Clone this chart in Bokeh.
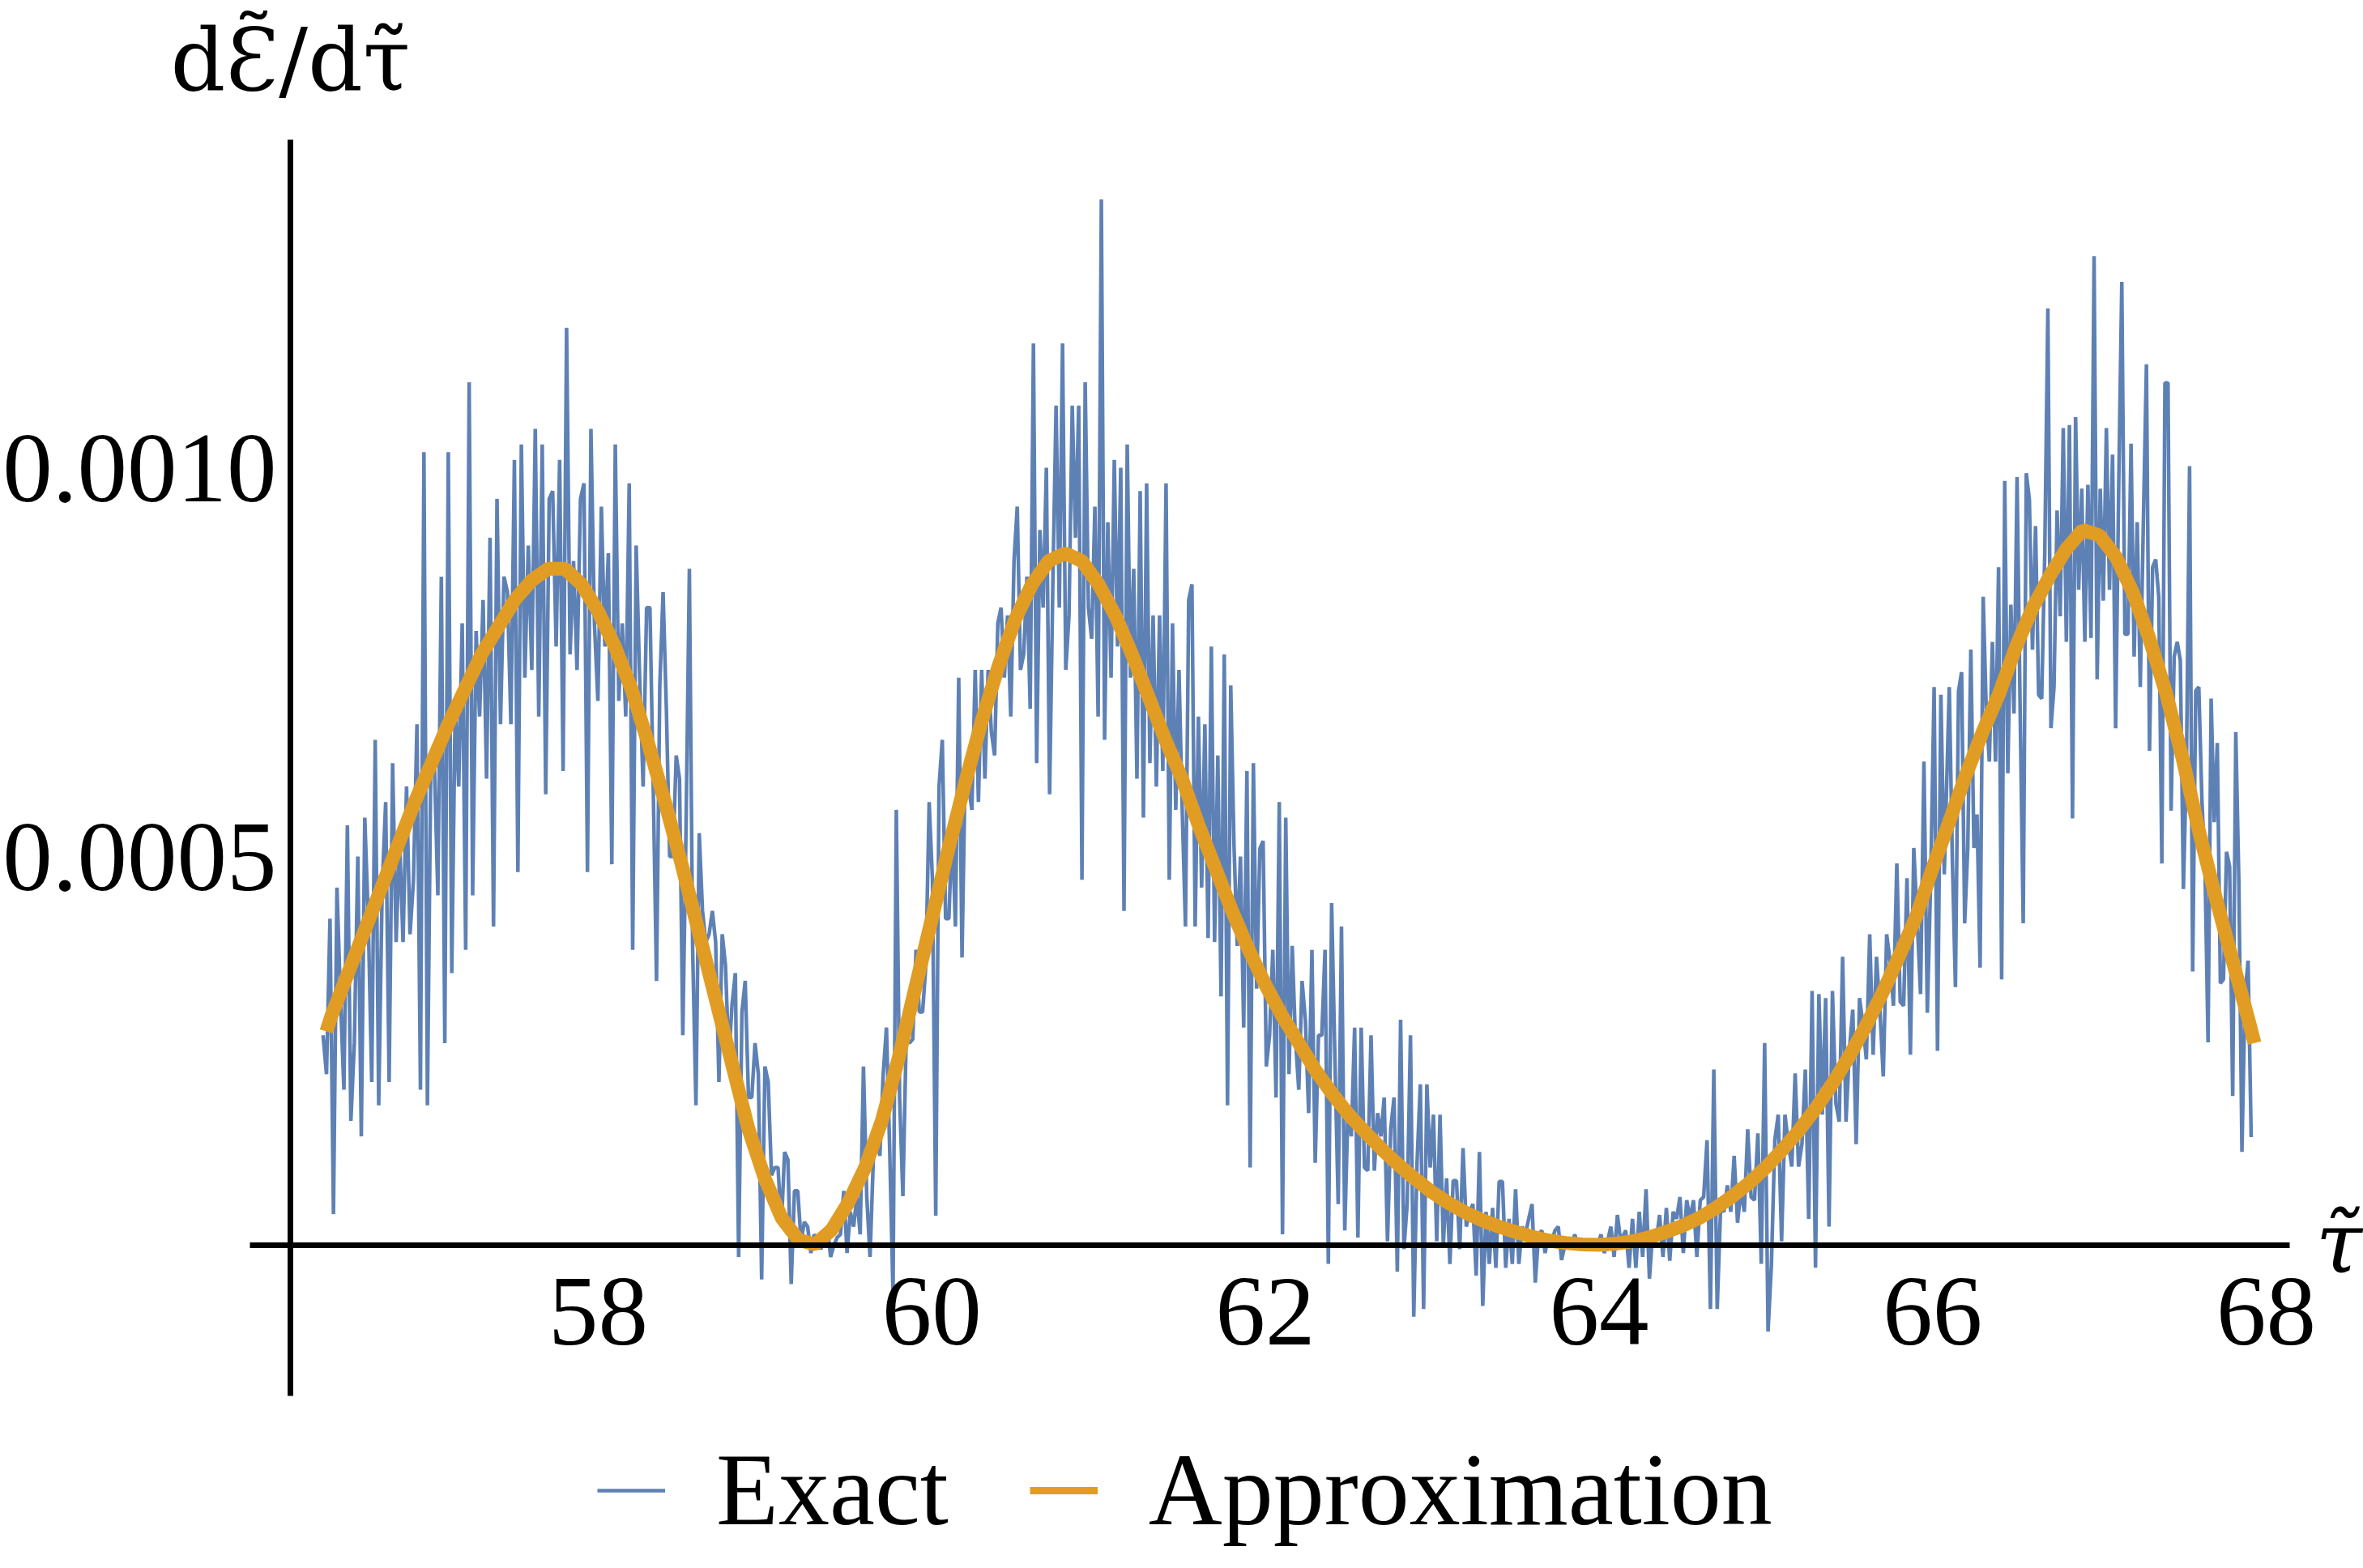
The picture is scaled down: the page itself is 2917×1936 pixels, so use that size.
import numpy as np
from bokeh.plotting import figure
from bokeh.models import Range1d, Label, Legend, LegendItem
from bokeh.embed import file_html
from bokeh.resources import INLINE

# ---------------- data (values in units of 1e-5) ----------------
approx_tau = [56.37] + [round(56.4 + 0.1 * i, 1) for i in range(116)] + [67.93]
approx_val = [27.5,
    29.5, 35, 40.5, 46, 51.5, 57, 62, 67, 71.5, 76, 79.5, 83, 85.5, 87, 87, 85,
    81.5, 77, 71.5, 64.5, 57, 49, 40.5, 32, 23.5, 15,
    8.5, 3.5, 0.7, 0.1, 2, 5.5, 10, 16, 24, 33,
    42, 51, 59.5, 67.5, 74.5, 80.5, 85, 88, 89, 88,
    85, 81, 76, 70.5, 65, 60, 54, 48.5, 43, 38,
    33.5, 29.5, 26, 22.5, 19.5, 16.8, 14.5, 12.3, 10.3, 8.5,
    6.8, 5.4, 4.2, 3.2, 2.4, 1.7, 1.1, 0.6, 0.3, 0.1,
    0.05, 0.2, 0.5, 1, 1.7, 2.5, 3.5, 4.8, 6.3, 8,
    10, 12.3, 14.8, 17.6, 20.8, 24.3, 28.2, 32.5, 37.2, 42.2,
    48.5, 54.5, 60.5, 66, 71, 77, 82, 86, 89.5, 92,
    91.3, 88.5, 84, 78, 71, 62.5, 53, 44.5, 36.5, 28.5,
    26]

# Exact (noisy) series, read segment by segment: (tau_start, tau_end) and values
exact_seg_tau = [(56.35, 58.29), (58.31, 60.24), (60.26, 62.18),
                 (62.20, 64.13), (64.16, 66.07), (66.10, 67.91)]
exact_seg1 = [27, 22, 42, 4, 46, 32, 20, 54, 16, 26, 50, 14, 55, 42, 21, 65, 18, 46, 57, 21,
              62, 39, 52, 39, 59, 40, 47, 67, 20, 102, 18, 63, 62, 45, 86, 26, 102, 35, 70, 59,
              80, 38, 111, 45, 79, 68, 83, 60, 91, 41, 96, 67, 86, 84, 67, 101, 48, 103, 73, 90,
              74, 105, 68, 103, 58, 96, 97, 77, 101, 61, 118, 76, 88, 74, 96, 98, 48, 105, 80, 70,
              95, 77, 89, 49, 103, 70, 80, 68, 98, 38, 90, 73, 59, 82]
exact_seg2 = [82, 59, 34, 72, 84, 69, 50, 50, 63, 60, 27, 54, 87, 38, 18, 53, 43, 39, 40, 43,
              39, 21, 40, 36, 24, 31, 35, -1.5, 30, 34, 19, 19, 26, 22, -4.4, 23, 21, 9, 10, 10,
              2.4, 12, 11, -5, 7, 7, 0.5, 3, 2.4, -1, 1.4, 0.5, -0.5, 0.5, 2.4, -1.5, 0, 1, 1.4, 7,
              -1, 4.3, 2.4, 6.3, 1.4, 23, 6.3, -1.5, 11, 14, 11.5, 22, 28, 12, -6.3, 56, 19, 6.3,
              26.5, 26, 26.5, 38, 30, 30, 36, 57, 47, 3.8, 59, 65, 42, 42, 54, 41, 73, 37, 62, 59, 56]
exact_seg3 = [74, 57, 74, 60, 74, 66, 63, 80, 82, 73, 81, 68, 88, 95, 74, 76, 86, 69, 116, 62,
              92, 82, 100, 58, 85, 108, 82, 116, 74, 81, 108, 91, 108, 47, 111, 82, 78, 95, 68, 134.5,
              65, 93, 73, 101, 77, 100, 43, 103, 73, 87, 60, 97, 55, 98, 62, 81, 59, 81, 61, 98,
              47, 80, 56, 74, 56, 41, 83, 85, 41, 68, 46, 67, 39.5, 77, 39, 63, 32, 76, 18, 72,
              51.5, 38.5, 50, 28, 61, 10, 62, 33, 51, 52, 23, 27, 38, 19, 57, 1.4, 55, 22, 38.5, 26.5]
exact_seg4 = [20, 34, 29, 17, 38, 10.6, 27, 27, 38, -2.4, 44, 24, 5.3, 41, 1.9, 18, 14, 28, 1, 28,
              10, 9.6, 27, 9.6, 17, 14, 19, 0.5, 15, 19, -3.4, 29, -0.5, 5.3, 27, -9.2, 10.6, 20.7, -8.2, 20.7,
              10, 16.8, 0.5, 16.8, 0, 8.6, -2.4, 8.3, 8.3, -0.5, 12.5, 2.4, 4.3, 5.3, -3.9, 12, -7.8, 4.3,
              -2.4, 4.8, -2.9, 8.2, 8.2, -2.9, 3.4, -2.4, 7.2, -2.4, 2.4, 1.4, 3.4, 5.3, -4.8, 1.4, 1.9,
              -1, 1.4, 0.5, 1.9, 2.4, -1.9, 0, 0.5, -0.5, 1.4, 0, 0.5, 0, 0.5, -0.5, 0.5, 0, 1.4, -1,
              0.5, 2.4, -1.5, 3.9, 0.5]
exact_seg5 = [1.9, -2.9, 3.4, -2.9, 4.3, -1.5, 7.2, -4.3, 1.9, 0.5, 3.9, -1.5, 4.8, -2, 4.3, 3.4,
              6.2, -1, 5.8, 3.4, 5.8, -1.5, 5.8, 6.2, 13.5, -8.2, 22.6, -8.2, 4.8, 4.3, 7.7, 4.3, 11.5,
              2.9, 7.2, 4.3, 14.9, 6.2, 5.8, 14.4, -2.4, 26, -11.1, -2.4, 13.5, 16.8, 0.5, 16.8, 13,
              10.1, 22.1, 10.1, 13, 22.6, 3.4, 32.7, -2.9, 32.3, 16.8, 31.8, 2.4, 32.7, 18.3, 15.9,
              37.1, 15.9, 25.1, 30.3, 13, 31.8, 28.4, 23.9, 40, 24.5, 37.1, 30.3, 21.7, 40, 36.6,
              30.8, 49.1, 31.3, 30.8, 47.2, 24.5, 51.1, 41.9, 32.3, 62.2, 29.9, 47.2, 71.8, 25, 70.8, 47.7]
exact_seg6 = [71.8, 49.6, 33.2, 71.3, 73.7, 41.4, 51.1, 76.6, 51.1, 55.4, 35.7, 83.4, 68.9, 62.2,
              77.6, 62.2, 87.2, 34.2, 98.3, 60.7, 82.4, 68.4, 98.8, 68.9, 41.4, 99.3, 95.9, 76.6,
              92.5, 70.8, 70.3, 89.2, 120.5, 66.5, 71.8, 94.5, 80.9, 105.1, 77.6, 105.5, 54.9, 106.5,
              84.3, 97.3, 77.6, 97.8, 78.1, 127.2, 72.8, 97.3, 82.9, 105.1, 84.3, 101.7, 66.5, 97.8,
              123.9, 78.6, 78.6, 103.1, 75.7, 93, 71.8, 93, 113.3, 63.6, 87.2, 88.2, 83.4, 49.1,
              110.9, 110.9, 55.9, 75.7, 77.6, 75.2, 45.8, 62.2, 100.2, 35.2, 71.3, 71.8, 57.3, 48.7,
              26.1, 70.3, 54.4, 64.6, 33.7, 34.2, 50.6, 48.7, 19.2, 66, 46.7, 12, 32.3, 36.6, 13.9]
exact_segs = [exact_seg1, exact_seg2, exact_seg3, exact_seg4, exact_seg5, exact_seg6]

x_ticks = [58, 60, 62, 64, 66, 68]
x_tick_labels = ["58", "60", "62", "64", "66", "68"]
y_ticks = [0.0005, 0.0010]
y_tick_labels = ["0.0005", "0.0010"]
series_names = ["Exact", "Approximation"]
y_title = "d\u0190\u0303/d\u03c4\u0303"
x_title = "\u03c4\u0303"
UNIT = 1e-5

# ---------------- build series ----------------
ex_t, ex_v = [], []
for (t0, t1), seg in zip(exact_seg_tau, exact_segs):
    ex_t.extend(np.linspace(t0, t1, len(seg)))
    ex_v.extend(np.array(seg) * UNIT)
ap_t = approx_tau
ap_v = list(np.array(approx_val) * UNIT)

# ---------------- layout (screen pixels; frame = whole canvas) ----------------
W, H = 2917, 1936
SX = 205.9          # px per tau unit
SY = 960000.0       # px per y unit
PX58, PY0 = 738, 1537   # pixel of tau=58 and of y=0
BASE_FIX = 42           # label baseline correction (px)

def dx(px):
    return 58 + (px - PX58) / SX

def dy(py):
    return (PY0 - py) / SY

def lab_y(py):
    return dy(py - BASE_FIX)

AXIS_X = dx(358)
AX_L, AX_R, AX_T, AX_B = 308, 2826, 172, 1723

BLUE = "#5E81B5"
ORANGE = "#E19C24"
FONT = "Liberation Serif"
MATH_FONT = "DejaVu Serif"

p = figure(width=W, height=H, x_range=Range1d(dx(0), dx(W)), y_range=Range1d(dy(H), dy(0)),
           x_axis_location=None, y_axis_location=None, toolbar_location=None,
           output_backend="svg", min_border=0)
p.xgrid.visible = False
p.ygrid.visible = False
p.outline_line_color = None
p.background_fill_color = "white"
p.border_fill_color = "white"

r_exact = p.line(ex_t, ex_v, line_color=BLUE, line_width=4.5)
r_approx = p.line(ap_t, ap_v, line_color=ORANGE, line_width=17)

# axes lines (decoration)
p.segment(x0=[dx(AX_L)], y0=[0], x1=[dx(AX_R)], y1=[0], line_color="black", line_width=7)
p.segment(x0=[AXIS_X], y0=[dy(AX_B)], x1=[AXIS_X], y1=[dy(AX_T)], line_color="black", line_width=7)

for v, lab in zip(x_ticks, x_tick_labels):
    p.add_layout(Label(x=v, y=lab_y(1661), text=lab, text_align="center",
                       text_baseline="alphabetic", text_font=FONT,
                       text_font_size="123px", text_color="black"))
for v, lab in zip(y_ticks, y_tick_labels):
    tick_px = PY0 - v * SY
    p.add_layout(Label(x=dx(341), y=lab_y(tick_px + 43), text=lab, text_align="right",
                       text_baseline="alphabetic", text_font=FONT,
                       text_font_size="123px", text_color="black"))

p.add_layout(Label(x=AXIS_X, y=lab_y(116), text=y_title, text_align="center",
                   text_baseline="alphabetic", text_font=MATH_FONT,
                   text_font_size="106px", text_color="black"))
p.add_layout(Label(x=dx(2858), y=lab_y(1576), text=x_title, text_align="left",
                   text_baseline="alphabetic", text_font=MATH_FONT, text_font_style="italic",
                   text_font_size="104px", text_color="black"))

leg_b = p.line(x=[np.nan], y=[np.nan], line_color=BLUE, line_width=4.5)
leg_o = p.line(x=[np.nan], y=[np.nan], line_color=ORANGE, line_width=9)
legend = Legend(items=[LegendItem(label=series_names[0], renderers=[leg_b]),
                       LegendItem(label=series_names[1], renderers=[leg_o])],
                orientation="horizontal", location=(737, 24), padding=0, margin=0,
                spacing=100, glyph_width=84, glyph_height=20, label_standoff=63,
                label_text_font=FONT, label_text_font_size="126px", label_text_color="black",
                background_fill_alpha=0, border_line_alpha=0)
p.add_layout(legend)

with open("out.html", "w", encoding="utf-8") as f:
    f.write(file_html(p, INLINE))
